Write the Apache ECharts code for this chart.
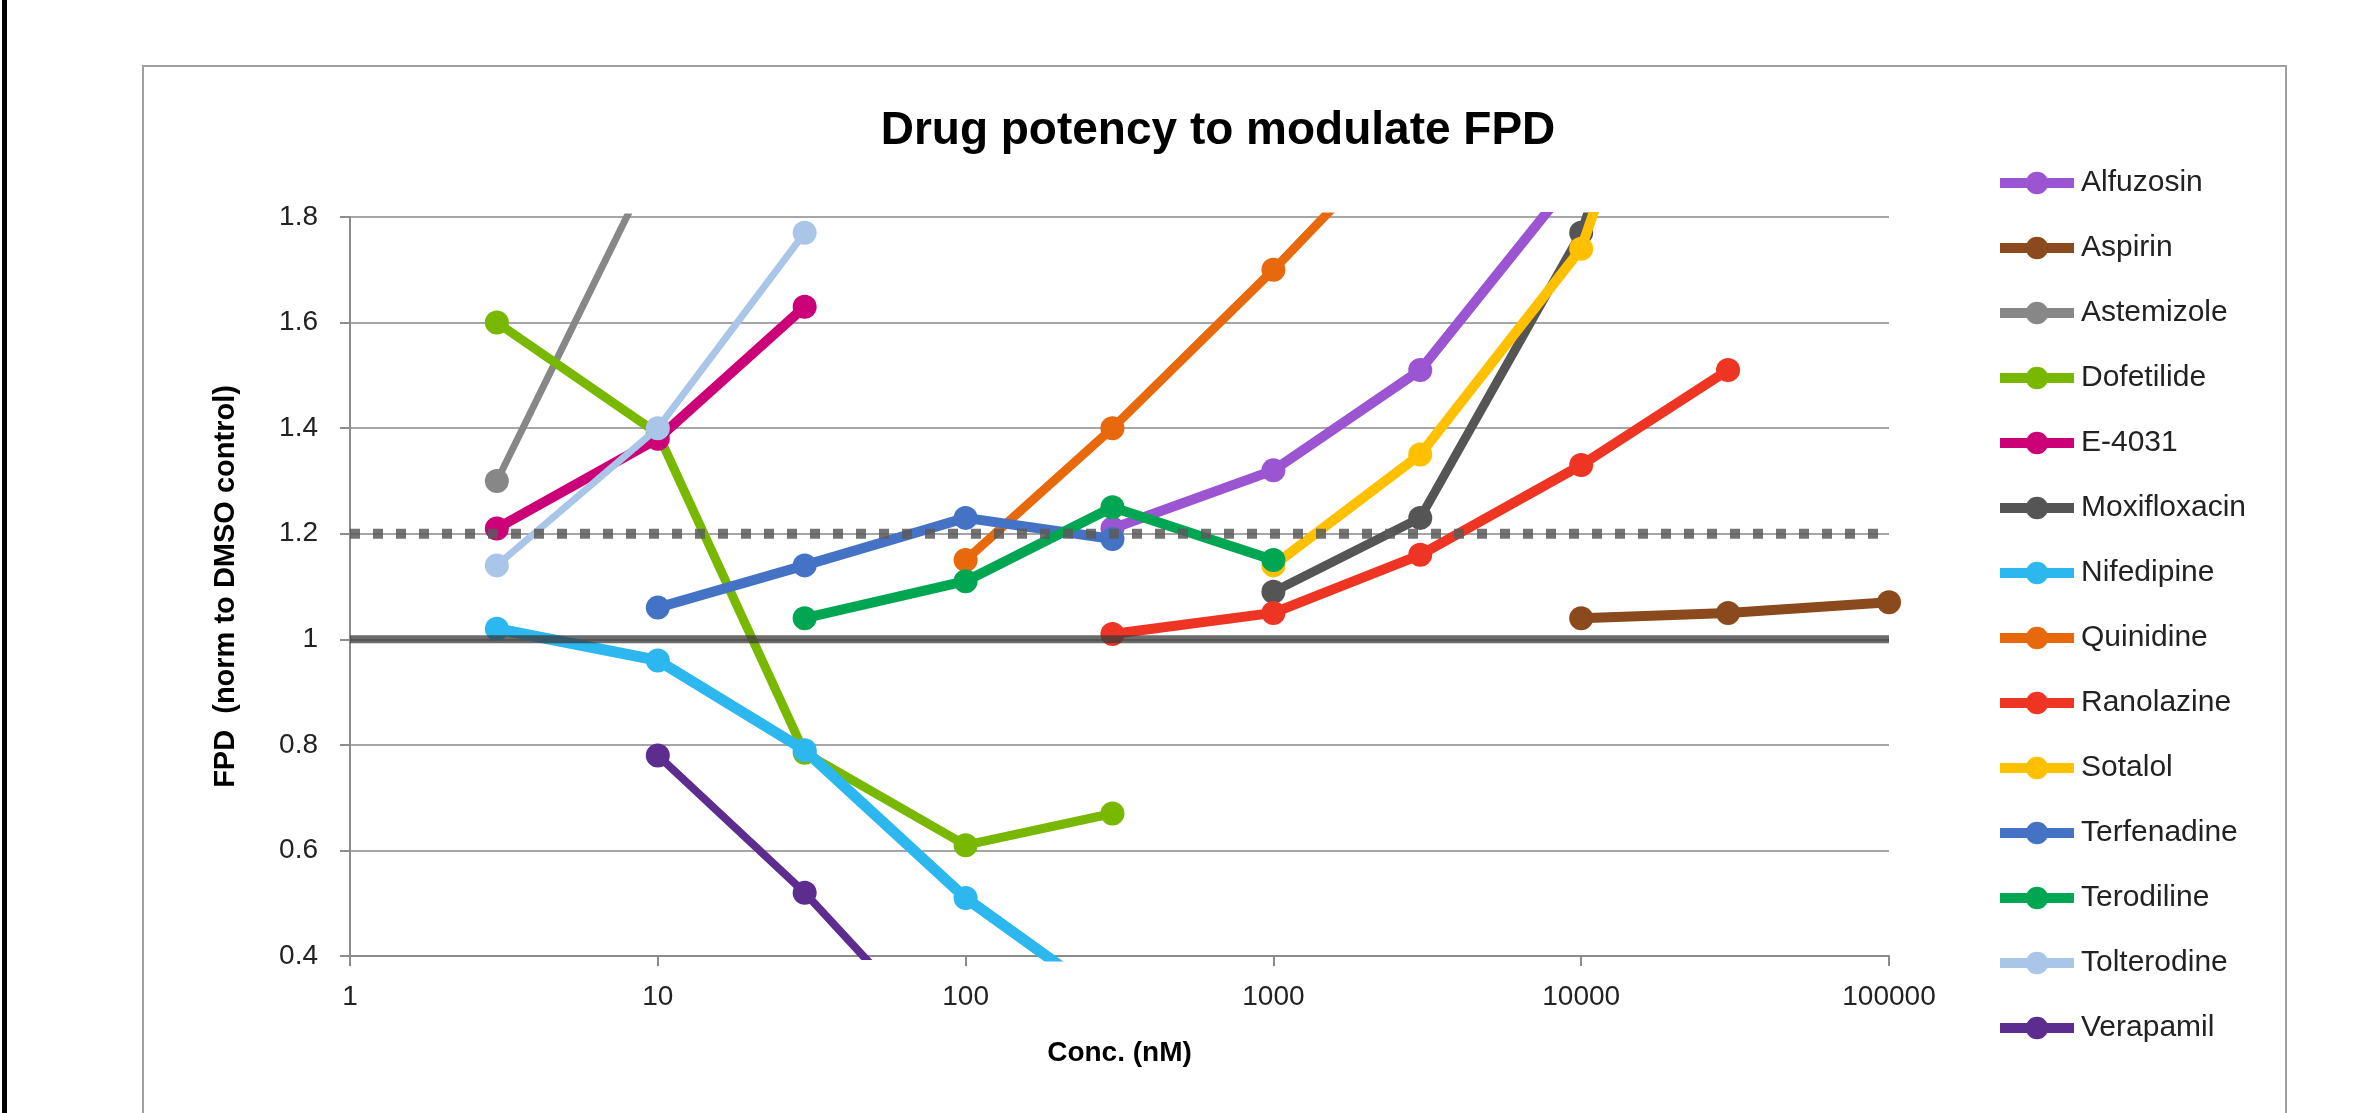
<!DOCTYPE html>
<html>
<head>
<meta charset="utf-8">
<script src="https://cdn.jsdelivr.net/npm/echarts@6/dist/echarts.min.js"></script>
<style>html,body{margin:0;padding:0;background:#fff;}#c{width:2355px;height:1113px;}</style>
</head>
<body>
<div id="c"></div>
<script>
// ---- data (concentration in nM, FPD normalised to DMSO control) ----
const alfuzosinX   = [300, 1000, 3000, 10000];
const alfuzosinY   = [1.21, 1.32, 1.51, 1.89];
const aspirinX     = [10000, 30000, 100000];
const aspirinY     = [1.04, 1.05, 1.07];
const astemizoleX  = [3, 10];
const astemizoleY  = [1.30, 1.92];
const dofetilideX  = [3, 10, 30, 100, 300];
const dofetilideY  = [1.60, 1.39, 0.785, 0.61, 0.67];
const e4031X       = [3, 10, 30];
const e4031Y       = [1.21, 1.38, 1.63];
const moxifloxacinX = [1000, 3000, 10000, 30000];
const moxifloxacinY = [1.09, 1.23, 1.77, 2.60];
const nifedipineX  = [3, 10, 30, 100, 300];
const nifedipineY  = [1.02, 0.96, 0.79, 0.51, 0.31];
const quinidineX   = [100, 300, 1000, 3000];
const quinidineY   = [1.15, 1.40, 1.70, 1.99];
const ranolazineX  = [300, 1000, 3000, 10000, 30000];
const ranolazineY  = [1.01, 1.05, 1.16, 1.33, 1.51];
const sotalolX     = [1000, 3000, 10000, 30000];
const sotalolY     = [1.14, 1.35, 1.74, 2.55];
const terfenadineX = [10, 30, 100, 300];
const terfenadineY = [1.06, 1.14, 1.23, 1.19];
const terodilineX  = [30, 100, 300, 1000];
const terodilineY  = [1.04, 1.11, 1.25, 1.15];
const tolterodineX = [3, 10, 30];
const tolterodineY = [1.14, 1.40, 1.77];
const verapamilX   = [10, 30, 100];
const verapamilY   = [0.78, 0.52, 0.19];

const drugNames = ['Alfuzosin','Aspirin','Astemizole','Dofetilide','E-4031','Moxifloxacin','Nifedipine','Quinidine','Ranolazine','Sotalol','Terfenadine','Terodiline','Tolterodine','Verapamil'];
const drugX = [alfuzosinX, aspirinX, astemizoleX, dofetilideX, e4031X, moxifloxacinX, nifedipineX, quinidineX, ranolazineX, sotalolX, terfenadineX, terodilineX, tolterodineX, verapamilX];
const drugY = [alfuzosinY, aspirinY, astemizoleY, dofetilideY, e4031Y, moxifloxacinY, nifedipineY, quinidineY, ranolazineY, sotalolY, terfenadineY, terodilineY, tolterodineY, verapamilY];
const drugColors = ['#9B55D3','#8B4A1D','#878787','#78B800','#CC0077','#555555','#2DB7EF','#E8690B','#EE3524','#FFC000','#4472C4','#00A651','#A9C5E8','#5D2C8F'];
const drugWidths = [10, 10, 7, 9, 10, 9, 11, 9, 10, 10, 10, 10, 7, 8];

const xMin = 1, xMax = 100000;
const yMin = 0.4, yMax = 1.8, yStep = 0.2;
const baseline = 1.0;
const threshold = 1.2;

const chart = echarts.init(document.getElementById('c'));

const series = drugNames.map((name, i) => ({
  name: name,
  type: 'line',
  data: drugX[i].map((x, k) => [x, drugY[i][k]]),
  symbol: 'circle',
  symbolSize: 24,
  showSymbol: true,
  clip: true,
  lineStyle: { color: drugColors[i], width: drugWidths[i] },
  itemStyle: { color: drugColors[i] },
  z: 3 + i
}));

series.push({
  name: 'baseline', type: 'line', silent: true,
  data: [[xMin, baseline], [xMax, baseline]],
  symbol: 'none', clip: false,
  lineStyle: { color: '#3a3a3a', width: 8, opacity: 0.75 },
  z: 30
});
series.push({
  name: 'threshold', type: 'line', silent: true,
  data: [[xMin, threshold], [xMax, threshold]],
  symbol: 'none', clip: false,
  lineStyle: { color: '#5a5a5a', width: 10, type: [10, 13], opacity: 0.85, cap: 'butt' },
  z: 31
});

const option = {
  animation: false,
  backgroundColor: '#ffffff',
  textStyle: { fontFamily: 'Liberation Sans' },
  title: {
    text: 'Drug potency to modulate FPD',
    left: 1213, top: 103, textAlign: 'center',
    textStyle: { fontFamily: 'Liberation Sans', fontWeight: 'bold', fontSize: 46, color: '#000' }
  },
  grid: { left: 350, top: 217, right: 466, bottom: 157, containLabel: false },
  legend: {
    orient: 'vertical',
    left: 1990, top: 163,
    itemWidth: 74, itemHeight: 28, itemGap: 35,
    data: drugNames,
    lineStyle: { width: 10 },
    textStyle: { fontFamily: 'Liberation Sans', fontSize: 30, color: '#222', padding: [0,0,0,2] }
  },
  xAxis: {
    type: 'log', logBase: 10, min: xMin, max: xMax,
    name: 'Conc. (nM)', nameLocation: 'middle', nameGap: 83,
    nameTextStyle: { fontFamily: 'Liberation Sans', fontWeight: 'bold', fontSize: 28, color: '#000' },
    axisLine: { show: true, onZero: false, lineStyle: { color: '#8c8c8c', width: 2 } },
    axisTick: { show: true, inside: false, length: 10, lineStyle: { color: '#8c8c8c', width: 2 } },
    minorTick: { show: false },
    splitLine: { show: false },
    axisLabel: { margin: 27, fontSize: 28, color: '#222', fontFamily: 'Liberation Sans',
      formatter: v => String(Math.round(v)) }
  },
  yAxis: {
    type: 'value', min: yMin, max: yMax, interval: yStep,
    name: 'FPD  (norm to DMSO control)', nameLocation: 'middle', nameGap: 110,
    nameTextStyle: { fontFamily: 'Liberation Sans', fontWeight: 'bold', fontSize: 29, color: '#000' },
    axisLine: { show: true, lineStyle: { color: '#8c8c8c', width: 2 } },
    axisTick: { show: true, inside: false, length: 10, lineStyle: { color: '#8c8c8c', width: 2 } },
    splitLine: { show: true, lineStyle: { color: '#a6a6a6', width: 2 } },
    axisLabel: { margin: 32, fontSize: 28, color: '#222', fontFamily: 'Liberation Sans',
      formatter: v => String(Math.round(v * 10) / 10) }
  },
  graphic: [
    { type: 'rect', z: -10, silent: true,
      shape: { x: 143, y: 66, width: 2143, height: 1200 },
      style: { fill: 'none', stroke: '#a0a0a0', lineWidth: 2 } },
    { type: 'rect', z: -10, silent: true,
      shape: { x: 2, y: 0, width: 5, height: 1113 },
      style: { fill: '#000' } }
  ],
  series: series
};
chart.setOption(option);
</script>
</body>
</html>
